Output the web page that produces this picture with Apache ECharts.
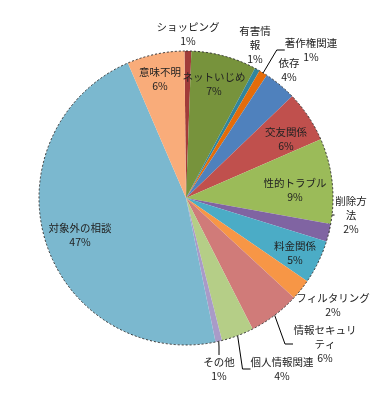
<!DOCTYPE html>
<html><head><meta charset="utf-8">
<script src="https://cdn.jsdelivr.net/npm/echarts@6/dist/echarts.min.js"></script>
<style>html,body{margin:0;padding:0;background:#fff}#c{width:371px;height:398px}</style>
</head><body><div id="c"></div>
<script>
const categories = ['ショッピング','ネットいじめ','有害情報','著作権関連','依存','交友関係','性的トラブル','削除方法','料金関係','フィルタリング','情報セキュリティ','個人情報関連','その他','対象外の相談','意味不明'];
const values = [0.75, 7.2, 0.56, 0.92, 3.58, 5.64, 9.36, 1.97, 4.78, 2.31, 5.64, 3.55, 0.72, 46.78, 6.31];
const colors = ['#A13B39','#77933C','#31859C','#E46C0A','#4F81BD','#C0504D','#9BBB59','#8064A2','#4BACC6','#F79646','#D07B79','#B5CE87','#A99BC8','#7BB8CF','#F9AC7A'];
const labelPos = [[188,34],[214,84],[255,45],[311,50],[289,70],[286,139],[295,190],[351,215],[295,253],[333,305],[325,344],[282,369],[219,369],[80,235],[160,79]];
const leaderIdx = [3,7,10,11,12];
const wrapWidth = {2:33, 7:33, 10:64};

const chart = echarts.init(document.getElementById('c'));
const data = categories.map((n,i)=>{
  const item = {name:n, value:values[i], itemStyle:{color:colors[i]},
    labelLine:{show: leaderIdx.includes(i)}};
  if (wrapWidth[i]) item.label = {width: wrapWidth[i], overflow:'break'};
  return item;
});
chart.setOption({
  animation:false,
  series:[{
    type:'pie', center:[186,198], radius:147, startAngle:90.6, clockwise:true,
    avoidLabelOverlap:false,
    itemStyle:{borderWidth:0},
    label:{show:true, position:'outside', color:'#222', fontSize:10.5, lineHeight:14,
      fontFamily:'"Noto Sans CJK JP", sans-serif', align:'center',
      formatter: p => p.name + '\n' + Math.round(p.percent) + '%'},
    labelLine:{lineStyle:{color:'#000', width:1}, length:10, length2:8},
    labelLayout: p => { const q = labelPos[p.dataIndex]; return {x:q[0], y:q[1], align:'center', verticalAlign:'middle'}; },
    data: data
  },{
    type:'pie', center:[186,198], radius:147, silent:true, z:3,
    label:{show:false}, labelLine:{show:false},
    itemStyle:{color:'rgba(0,0,0,0)', borderColor:'#333', borderWidth:1, borderType:[2,2]},
    data:[{value:1, name:''}]
  }]
});
</script></body></html>
